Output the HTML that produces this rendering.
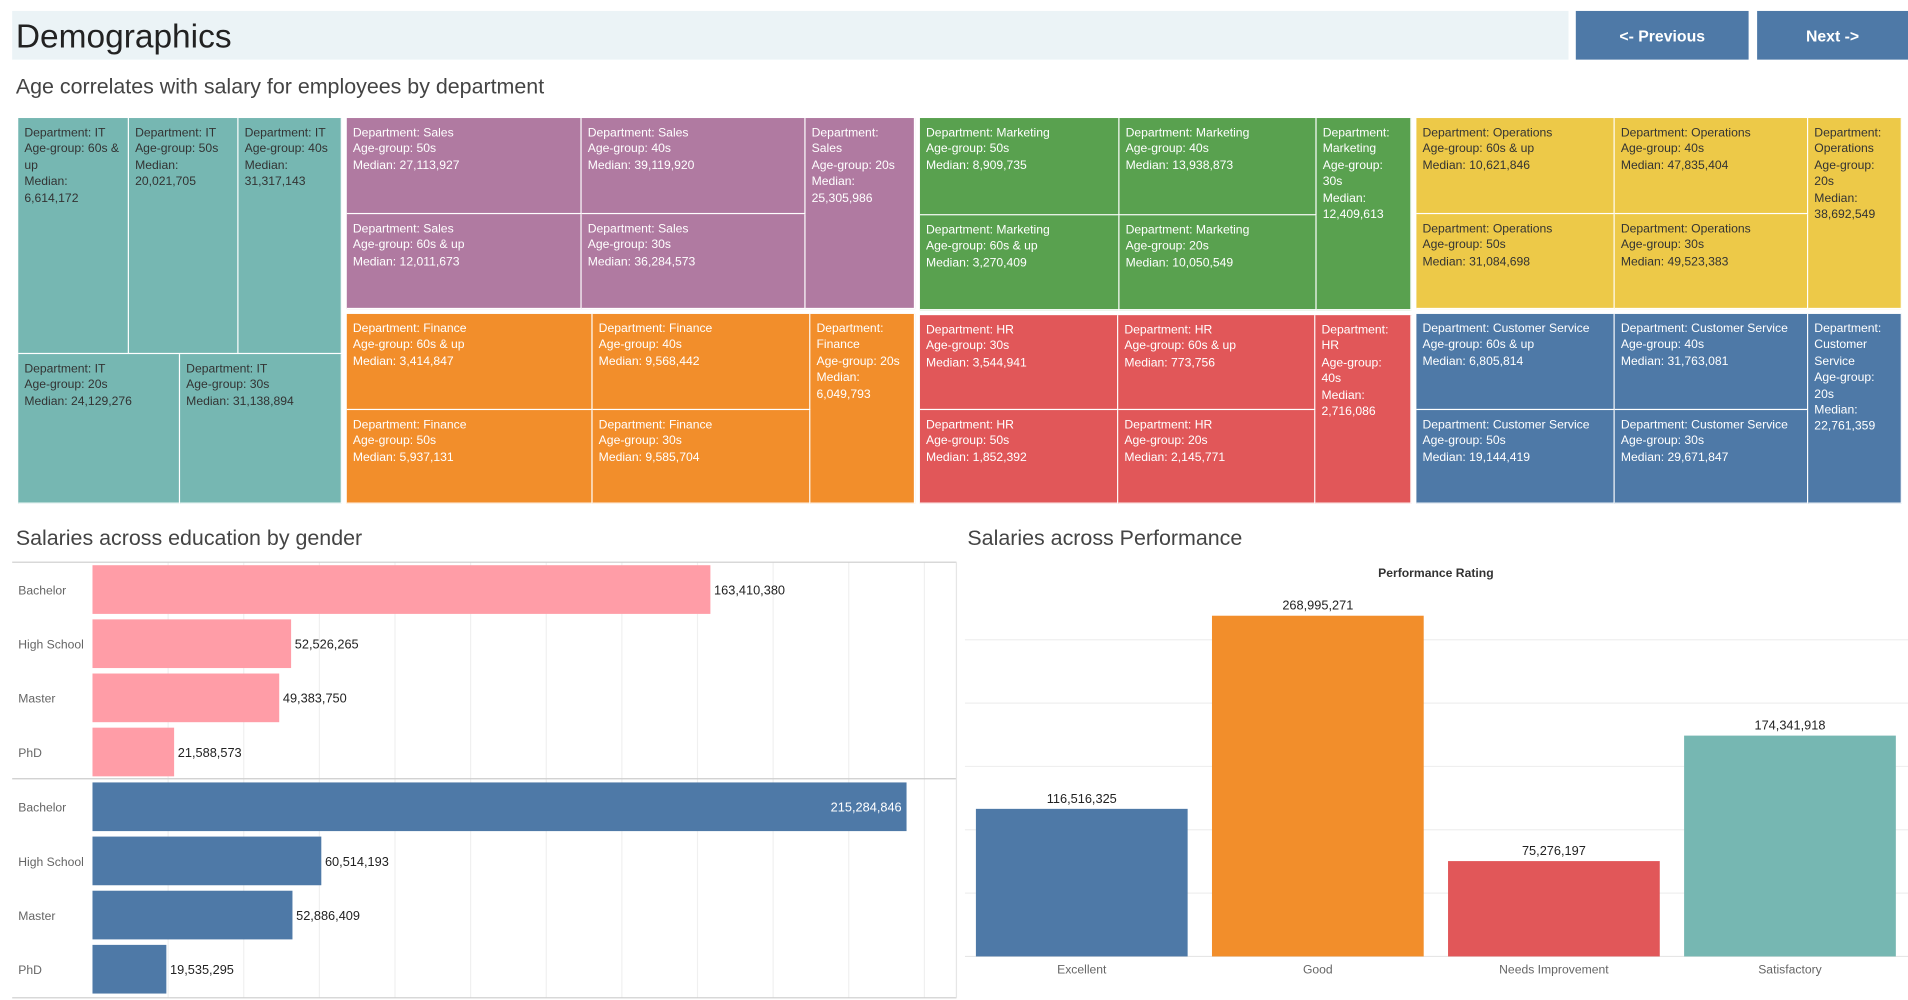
<!DOCTYPE html>
<html><head><meta charset="utf-8">
<style>
html,body{margin:0;padding:0;background:#fff;overflow:hidden}
body{width:1908px;height:1000px;font-family:"Liberation Sans",sans-serif}
#root{position:absolute;left:0;top:0;width:1568px;height:822px;transform:scale(1.21684);transform-origin:0 0}
.abs{position:absolute}
.cell{position:absolute;box-sizing:border-box;border-right:1px solid #fff;border-bottom:1px solid #fff;padding:6px 5px;font-size:10px;line-height:13.4px;color:#fff;overflow:hidden}
.dark{color:#333}
.btn{position:absolute;background:#4e79a7;color:#fff;font-weight:bold;font-size:13px;display:flex;align-items:center;justify-content:center}
.ttl{position:absolute;font-size:17.6px;color:#444}
</style></head><body>
<div id="root">
<div class="abs" style="left:10px;top:9px;width:1279px;height:40px;background:#ebf3f6"></div>
<div class="abs" style="left:13px;top:14px;font-size:27.5px;color:#222">Demographics</div>
<div class="btn" style="left:1295px;top:9px;width:142px;height:40px">&lt;- Previous</div>
<div class="btn" style="left:1444px;top:9px;width:124px;height:40px">Next -&gt;</div>
<div class="ttl" style="left:13px;top:61px">Age correlates with salary for employees by department</div>
<div id="treemap"></div>
<div class="ttl" style="left:13px;top:432px">Salaries across education by gender</div>
<div class="ttl" style="left:795px;top:432px">Salaries across Performance</div>
<svg class="abs" style="left:0;top:0" width="1568" height="822" id="charts"></svg>
</div>
<script>
const tm=[
["IT","60s & up","6,614,172",15,97,106,291,"#76b7b2",1],
["IT","50s","20,021,705",106,97,196,291,"#76b7b2",1],
["IT","40s","31,317,143",196,97,281,291,"#76b7b2",1],
["IT","20s","24,129,276",15,291,148,414,"#76b7b2",1],
["IT","30s","31,138,894",148,291,281,414,"#76b7b2",1],
["Sales","50s","27,113,927",285,97,478,176,"#b07aa1",0],
["Sales","60s & up","12,011,673",285,176,478,254,"#b07aa1",0],
["Sales","40s","39,119,920",478,97,662,176,"#b07aa1",0],
["Sales","30s","36,284,573",478,176,662,254,"#b07aa1",0],
["Sales","20s","25,305,986",662,97,752,254,"#b07aa1",0],
["Finance","60s & up","3,414,847",285,258,487,337,"#f28e2b",0],
["Finance","50s","5,937,131",285,337,487,414,"#f28e2b",0],
["Finance","40s","9,568,442",487,258,666,337,"#f28e2b",0],
["Finance","30s","9,585,704",487,337,666,414,"#f28e2b",0],
["Finance","20s","6,049,793",666,258,752,414,"#f28e2b",0],
["Marketing","50s","8,909,735",756,97,920,177,"#59a14f",0],
["Marketing","60s & up","3,270,409",756,177,920,255,"#59a14f",0],
["Marketing","40s","13,938,873",920,97,1082,177,"#59a14f",0],
["Marketing","20s","10,050,549",920,177,1082,255,"#59a14f",0],
["Marketing","30s","12,409,613",1082,97,1160,255,"#59a14f",0],
["HR","30s","3,544,941",756,259,919,337,"#e15759",0],
["HR","50s","1,852,392",756,337,919,414,"#e15759",0],
["HR","60s & up","773,756",919,259,1081,337,"#e15759",0],
["HR","20s","2,145,771",919,337,1081,414,"#e15759",0],
["HR","40s","2,716,086",1081,259,1160,414,"#e15759",0],
["Operations","60s & up","10,621,846",1164,97,1327,176,"#edc948",1],
["Operations","50s","31,084,698",1164,176,1327,254,"#edc948",1],
["Operations","40s","47,835,404",1327,97,1486,176,"#edc948",1],
["Operations","30s","49,523,383",1327,176,1486,254,"#edc948",1],
["Operations","20s","38,692,549",1486,97,1563,254,"#edc948",1],
["Customer Service","60s & up","6,805,814",1164,258,1327,337,"#4e79a7",0],
["Customer Service","50s","19,144,419",1164,337,1327,414,"#4e79a7",0],
["Customer Service","40s","31,763,081",1327,258,1486,337,"#4e79a7",0],
["Customer Service","30s","29,671,847",1327,337,1486,414,"#4e79a7",0],
["Customer Service","20s","22,761,359",1486,258,1563,414,"#4e79a7",0]];
const T=document.getElementById('treemap');
tm.forEach(c=>{const d=document.createElement('div');


d.className='cell'+(c[8]?' dark':'');
d.style.cssText=`left:${c[3]}px;top:${c[4]}px;width:${c[5]-c[3]}px;height:${c[6]-c[4]}px;background:${c[7]}`;
d.innerHTML=`Department: ${c[0]}<br>Age-group: ${c[1]}<br>Median: ${c[2]}`;T.appendChild(d);});

const eduCats=["Bachelor","High School","Master","PhD"];
const femaleVals=[163410380,52526265,49383750,21588573];
const maleVals=[215284846,60514193,52886409,19535295];
const eduTicks=[0,20e6,40e6,60e6,80e6,100e6,120e6,140e6,160e6,180e6,200e6,220e6];
const perfCats=["Excellent","Good","Needs Improvement","Satisfactory"];
const perfVals=[116516325,268995271,75276197,174341918];
const perfColors=["#4e79a7","#f28e2b","#e15759","#76b7b2"];
const perfTicks=[0,50e6,100e6,150e6,200e6,250e6];

const S=document.getElementById('charts');const NS='http://www.w3.org/2000/svg';
function el(t,a,txt){const e=document.createElementNS(NS,t);for(const k in a)e.setAttribute(k,a[k]);if(txt!=null)e.textContent=txt;S.appendChild(e);return e;}
const fmt=v=>Math.round(v).toLocaleString('en-US');
const ex=v=>76+v*669/215284846;
eduTicks.forEach(t=>{if(t>0&&ex(t)<786){const l=el('line',{x1:ex(t),x2:ex(t),y1:462,y2:820,stroke:'#f0f0f0'});

}});
[462,640,820].forEach(y=>{const l=el('line',{x1:10,x2:786,y1:y,y2:y,stroke:'#ccc'});

});
const ln=el('line',{x1:786,x2:786,y1:462,y2:820,stroke:'#e6e6e6'});


function eduPanel(vals,y0,color,g){
vals.forEach((v,i)=>{const yc=y0+i*44.5;
const r=el('rect',{x:76,y:yc-20,width:ex(v)-76,height:40,fill:color});


const c=el('text',{x:15,y:yc+4,'font-size':10,fill:'#666'},eduCats[i]);


const inside=ex(v)>700;
const t=el('text',{x:inside?ex(v)-4:ex(v)+3,y:yc+4,'font-size':10.5,fill:inside?'#fff':'#222','text-anchor':inside?'end':'start'},fmt(v));

});}
eduPanel(femaleVals,484.5,'#ff9da7','female');
eduPanel(maleVals,663,'#4e79a7','male');
const py=v=>786-v*280/268995271;
perfTicks.forEach(t=>{const l=el('line',{x1:793,x2:1568,y1:py(t),y2:py(t),stroke:t?'#efefef':'#e6e6e6'});

});
const ph=el('text',{x:1180,y:474,'font-size':10,'font-weight':'bold',fill:'#333','text-anchor':'middle'},'Performance Rating');


perfVals.forEach((v,i)=>{const x=802+i*194;
const r=el('rect',{x:x,y:py(v),width:174,height:786-py(v),fill:perfColors[i]});


const t=el('text',{x:x+87,y:py(v)-5,'font-size':10.5,fill:'#222','text-anchor':'middle'},fmt(v));


const c=el('text',{x:x+87,y:800,'font-size':10,fill:'#666','text-anchor':'middle'},perfCats[i]);

});
</script>
</body></html>
